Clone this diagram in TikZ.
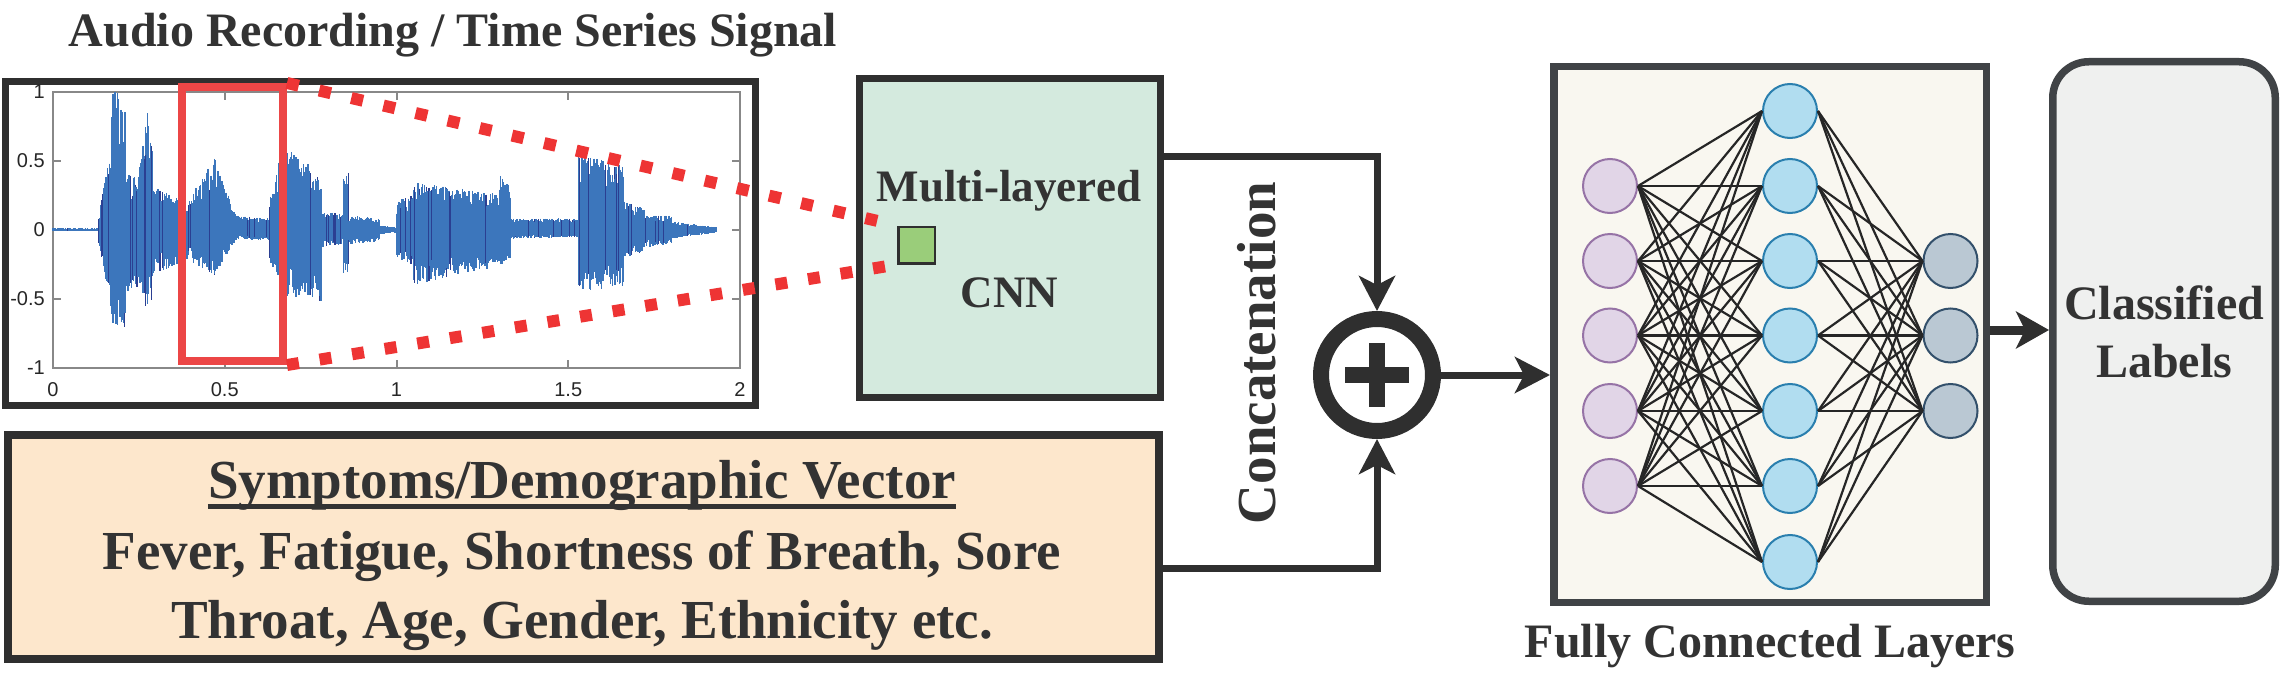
\documentclass[tikz,border=0pt]{standalone}
\usepackage{fontspec}
\setmainfont{Liberation Serif}
\newfontfamily\axfont{Liberation Sans}
\usetikzlibrary{arrows.meta,calc}
\definecolor{txt}{HTML}{333333}
\definecolor{dk}{HTML}{2F2F2F}
\definecolor{bordB}{HTML}{404346}
\definecolor{cnnF}{HTML}{D4EADE}
\definecolor{sqF}{HTML}{9ACD7A}
\definecolor{symF}{HTML}{FDE7CC}
\definecolor{fcF}{HTML}{F9F7F0}
\definecolor{clsF}{HTML}{EFF0EF}
\definecolor{inF}{HTML}{E1D5E7}
\definecolor{inD}{HTML}{9673A6}
\definecolor{hidF}{HTML}{B1DDF0}
\definecolor{hidD}{HTML}{2A7FAE}
\definecolor{outF}{HTML}{BAC8D3}
\definecolor{outD}{HTML}{33506B}
\definecolor{rectred}{HTML}{EC4646}
\definecolor{dotred}{HTML}{EE3434}
\definecolor{waveA}{HTML}{3C76BC}
\definecolor{waveB}{HTML}{2B3F92}
\definecolor{axgray}{HTML}{888888}
\definecolor{axtxt}{HTML}{262626}
\tikzset{
  lbl/.style={font=\fontsize{48}{58}\selectfont\bfseries, text=txt, inner sep=0pt},
  conn/.style={draw=dk, line width=7pt, -{Stealth[length=35pt,width=36pt,inset=9pt]}},
  connB/.style={draw=dk, line width=9pt, -{Stealth[length=33pt,width=37pt,inset=9pt]}},
  nnline/.style={draw=black!85, line width=2.2pt},
  innode/.style={circle, draw=inD, fill=inF, line width=2pt, minimum size=54pt, inner sep=0pt},
  hidnode/.style={circle, draw=hidD, fill=hidF, line width=2pt, minimum size=54pt, inner sep=0pt},
  outnode/.style={circle, draw=outD, fill=outF, line width=2pt, minimum size=54pt, inner sep=0pt},
  axline/.style={draw=axgray, line width=2pt},
  ticklbl/.style={font=\axfont\fontsize{20}{24}\selectfont, text=axtxt, inner sep=0pt},
  reddots/.style={draw=dotred, line width=12pt, dash pattern=on 12pt off 21pt},
}
\begin{document}
\begin{tikzpicture}[x=1pt,y=-1pt]
\useasboundingbox (0,0) rectangle (2283,674);

% ---------- title ----------
\node[lbl, anchor=base] (title) at (453,47) {Audio Recording / Time Series Signal};

% ---------- audio box ----------
\node[draw=dk, line width=7pt, minimum width=750pt, minimum height=324pt, inner sep=0pt] (audio) at (380.5,243.5) {};

% axes
\draw[axline] (53,92) rectangle (740,368);
\foreach \t in {0.5,1,1.5}{
  \draw[axline] ({53+343.5*\t},368) -- ({53+343.5*\t},360);
  \draw[axline] ({53+343.5*\t},92) -- ({53+343.5*\t},100);
}
\foreach \v in {0.5,0,-0.5}{
  \draw[axline] (53,{230-138*\v}) -- (61,{230-138*\v});
  \draw[axline] (740,{230-138*\v}) -- (732,{230-138*\v});
}
\foreach \t/\l in {0/0,0.5/0.5,1/1,1.5/1.5,2/2}
  \node[ticklbl] at ({53+343.5*\t},390) {\l};
\foreach \v/\l in {1/1,0.5/0.5,0/0,-0.5/-0.5,-1/-1}
  \node[ticklbl, anchor=east] at (45,{230-138*\v}) {\l};

% waveform
\pgfmathsetseed{11}
\foreach \ta/\tb/\pa/\pb/\na/\nb in {
 0/0.134/0.012/0.012/0.01/0.01,
 0.134/0.165/0.1/0.55/0.1/0.5,
 0.165/0.175/0.55/0.95/0.5/0.7,
 0.175/0.21/1.0/0.9/0.7/0.7,
 0.21/0.25/0.4/0.35/0.45/0.4,
 0.25/0.27/0.4/0.85/0.4/0.6,
 0.27/0.29/0.9/0.6/0.62/0.5,
 0.29/0.365/0.3/0.22/0.3/0.25,
 0.365/0.39/0.18/0.15/0.2/0.15,
 0.39/0.47/0.2/0.5/0.2/0.32,
 0.47/0.53/0.5/0.12/0.32/0.08,
 0.53/0.63/0.1/0.08/0.07/0.07,
 0.63/0.67/0.2/0.6/0.2/0.45,
 0.67/0.78/0.6/0.4/0.45/0.5,
 0.78/0.845/0.12/0.12/0.12/0.1,
 0.845/0.86/0.4/0.4/0.3/0.3,
 0.86/0.95/0.1/0.08/0.1/0.08,
 0.95/1.0/0.03/0.02/0.03/0.02,
 1.0/1.05/0.2/0.25/0.2/0.25,
 1.05/1.3/0.33/0.25/0.38/0.25,
 1.3/1.33/0.38/0.3/0.25/0.2,
 1.33/1.53/0.08/0.08/0.06/0.05,
 1.53/1.66/0.52/0.45/0.42/0.4,
 1.66/1.72/0.2/0.15/0.2/0.15,
 1.72/1.8/0.1/0.1/0.12/0.1,
 1.8/1.93/0.06/0.02/0.06/0.02}{
  \pgfmathtruncatemacro\nn{max(1,(\tb-\ta)*343.5/0.9)}
  \foreach \k in {0,...,\nn}{
    \pgfmathsetmacro\f{\k/\nn}
    \pgfmathsetmacro\xx{53+343.5*(\ta+\f*(\tb-\ta))}
    \pgfmathsetmacro\pp{min(1,(\pa+\f*(\pb-\pa))*(0.55+0.5*sqrt(rnd)))}
    \pgfmathsetmacro\qq{min(1,(\na+\f*(\nb-\na))*(0.55+0.5*sqrt(rnd)))}
    \pgfmathtruncatemacro\dk{rnd<0.12 ? 1 : 0}
    \ifnum\dk=1
      \draw[waveB, line width=1.1pt] (\xx,{230-138*\pp}) -- (\xx,{230+138*\qq});
    \else
      \draw[waveA, line width=1.5pt] (\xx,{230-138*\pp}) -- (\xx,{230+138*\qq});
    \fi
  }
}

% red selection rectangle
\node[draw=rectred, line width=8pt, minimum width=101pt, minimum height=274pt, inner sep=0pt] (sel) at (232.5,224) {};

% ---------- CNN box ----------
\node[draw=dk, fill=cnnF, line width=6.7pt, minimum width=301.3pt, minimum height=319.3pt, inner sep=0pt] (cnn) at (1010,238) {};
\node[font=\fontsize{45}{54}\selectfont\bfseries, text=txt, inner sep=0pt, anchor=base] (ml) at (1009,201) {Multi-layered};
\node[font=\fontsize{45}{54}\selectfont\bfseries, text=txt, inner sep=0pt, anchor=base] (cnnt) at (1009.5,307) {CNN};
\node[draw=dk, fill=sqF, line width=2.5pt, minimum size=36.5pt, inner sep=0pt] (gsq) at (916.5,245) {};

% dotted zoom lines
\draw[reddots] (sel.north east) -- (gsq.north west);
\draw[reddots] (sel.south east) -- (gsq.south west);

% ---------- symptoms box ----------
\node[draw=dk, fill=symF, line width=8pt, minimum width=1151pt, minimum height=224pt, inner sep=0pt] (sym) at (583.5,547) {};
\node[font=\fontsize{55}{66}\selectfont\bfseries, text=txt, inner sep=0pt, anchor=base] (symt) at (582,498) {Symptoms/Demographic Vector};
\draw[txt, line width=5pt] ($(symt.base west)+(0,8)$) -- ($(symt.base east)+(0,8)$);
\node[font=\fontsize{55}{66}\selectfont\bfseries, text=txt, inner sep=0pt, anchor=base] (sym2) at (582,569) {Fever, Fatigue, Shortness of Breath, Sore};
\node[font=\fontsize{55}{66}\selectfont\bfseries, text=txt, inner sep=0pt, anchor=base] (sym3) at (582,638) {Throat, Age, Gender, Ethnicity etc.};

% ---------- concatenation ----------
\node[draw=dk, line width=16pt, circle, minimum size=112pt, inner sep=0pt] (plus) at (1377,375) {};
\draw[dk, line width=16pt] ($(plus.center)+(-32,0)$) -- ($(plus.center)+(32,0)$);
\draw[dk, line width=16pt] ($(plus.center)+(0,-32)$) -- ($(plus.center)+(0,32)$);
\node[font=\fontsize{55}{66}\selectfont\bfseries, text=txt, inner sep=0pt, anchor=base, rotate=90] (concat) at (1275,353) {Concatenation};

\draw[conn] ([yshift=82pt]cnn.east) -| (plus.north);
\draw[conn] ([yshift=-21pt]sym.east) -| (plus.south);

% ---------- fully connected ----------
\node[draw=bordB, fill=fcF, line width=7.5pt, minimum width=432.5pt, minimum height=535.5pt, inner sep=0pt] (fc) at (1770,334.5) {};
\draw[conn] (plus.east) -- (plus.east -| fc.west);

\foreach \i/\y in {1/186,2/261,3/335.5,4/411,5/486}
  \node[innode] (i\i) at (1610,\y) {};
\foreach \j/\y in {1/111,2/186,3/261,4/335.5,5/411,6/486,7/562}
  \node[hidnode] (h\j) at (1790,\y) {};
\foreach \k/\y in {1/261,2/335.5,3/411}
  \node[outnode] (o\k) at (1950.5,\y) {};
\foreach \i in {1,...,5}
  \foreach \j in {1,...,7}
    \draw[nnline] (i\i.east) -- (h\j.west);
\foreach \j in {1,...,7}
  \foreach \k in {1,...,3}
    \draw[nnline] (h\j.east) -- (o\k.west);

\node[lbl, anchor=base] (fct) at (1770,657) {Fully Connected Layers};

% ---------- classified ----------
\node[draw=bordB, fill=clsF, line width=7.5pt, rounded corners=36pt, minimum width=222.5pt, minimum height=539.5pt, inner sep=0pt] (cls) at (2164,331.5) {};
\node[lbl, anchor=base] (clt1) at (2164,319) {Classified};
\node[lbl, anchor=base] (clt2) at (2164,377) {Labels};
\draw[connB] ([yshift=4.5pt]fc.east) -- ([yshift=4.5pt]fc.east -| cls.west);
\end{tikzpicture}
\end{document}
